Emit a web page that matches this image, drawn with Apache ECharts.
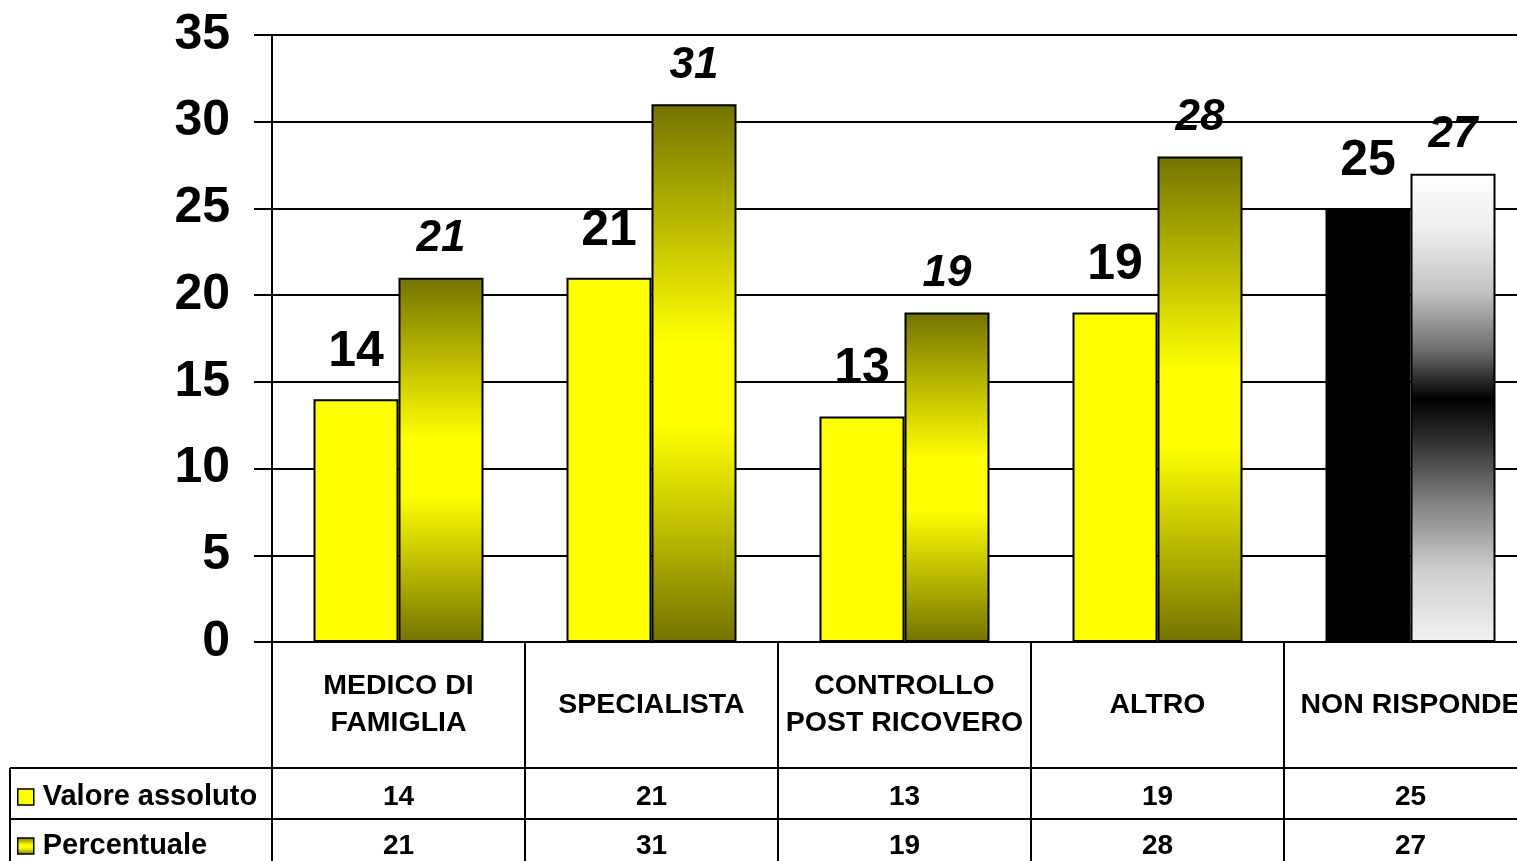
<!DOCTYPE html>
<html>
<head>
<meta charset="utf-8">
<script src="https://cdn.jsdelivr.net/npm/echarts@6/dist/echarts.min.js"></script>
<style>
html,body{margin:0;padding:0;overflow:hidden;background:#fff;}
#c{width:1537px;height:861px;}
</style>
</head>
<body>
<div id="c"></div>
<script>
const categories = ['MEDICO DI\nFAMIGLIA', 'SPECIALISTA', 'CONTROLLO\nPOST RICOVERO', 'ALTRO', 'NON RISPONDE'];
const valoreAssoluto = [14, 21, 13, 19, 25];
const percentuale = [21, 31, 19, 28, 27];
const yTicks = [0, 5, 10, 15, 20, 25, 30, 35];
const seriesNames = ['Valore assoluto', 'Percentuale'];

const FONT = 'Liberation Sans, Arial, sans-serif';
const olive = new echarts.graphic.LinearGradient(0, 0, 0, 1, [
  {offset: 0, color: '#737300'},
  {offset: 0.44, color: '#ffff00'},
  {offset: 0.6, color: '#ffff00'},
  {offset: 1, color: '#737300'}
]);
const grey = new echarts.graphic.LinearGradient(0, 0, 0, 1, [
  {offset: 0, color: '#ffffff'},
  {offset: 0.12, color: '#eeeeee'},
  {offset: 0.25, color: '#c4c4c4'},
  {offset: 0.38, color: '#6a6a6a'},
  {offset: 0.48, color: '#000000'},
  {offset: 0.56, color: '#2a2a2a'},
  {offset: 0.7, color: '#808080'},
  {offset: 0.85, color: '#d0d0d0'},
  {offset: 1, color: '#f2f2f2'}
]);
const lastIdx = categories.length - 1;

const legendText = {fontSize: 29, fontWeight: 'bold', fontFamily: FONT, color: '#000', lineHeight: 30, padding: [0, 0, 0, 4]};
const chart = echarts.init(document.getElementById('c'), null, {renderer: 'canvas'});
chart.setOption({
  animation: false,
  backgroundColor: '#fff',
  grid: {left: 272, top: 35, right: 0, bottom: 219, containLabel: false},
  legend: [
    {data: [seriesNames[0]], left: 17, top: 782, padding: 0, itemWidth: 16, itemHeight: 16, icon: 'rect',
     itemStyle: {borderColor: '#000', borderWidth: 1.5}, textStyle: legendText},
    {data: [seriesNames[1]], left: 17, top: 831, padding: 0, itemWidth: 16, itemHeight: 16, icon: 'rect',
     itemStyle: {borderColor: '#000', borderWidth: 1.5}, textStyle: legendText}
  ],
  xAxis: [
    {type: 'category', data: categories, position: 'bottom', offset: 0,
     axisLine: {show: true, lineStyle: {color: '#000', width: 2}},
     axisTick: {show: true, length: 219, interval: 0, lineStyle: {color: '#000', width: 2}},
     axisLabel: {interval: 0, margin: 63, verticalAlign: 'middle', lineHeight: 37, fontSize: 28.5, fontWeight: 'bold', fontFamily: FONT, color: '#000'},
     splitLine: {show: false}},
    {type: 'category', data: valoreAssoluto.map(String), position: 'bottom', offset: 0,
     axisLine: {show: false}, axisTick: {show: false}, splitLine: {show: false},
     axisLabel: {interval: 0, margin: 155, verticalAlign: 'middle', fontSize: 28, fontWeight: 'bold', fontFamily: FONT, color: '#000'}},
    {type: 'category', data: percentuale.map(String), position: 'bottom', offset: 0,
     axisLine: {show: false}, axisTick: {show: false}, splitLine: {show: false},
     axisLabel: {interval: 0, margin: 204, verticalAlign: 'middle', fontSize: 28, fontWeight: 'bold', fontFamily: FONT, color: '#000'}}
  ],
  yAxis: {
    type: 'value', min: yTicks[0], max: yTicks[yTicks.length - 1], interval: yTicks[1] - yTicks[0],
    axisLine: {show: true, lineStyle: {color: '#000', width: 2}},
    axisTick: {show: true, length: 18, lineStyle: {color: '#000', width: 2}},
    splitLine: {show: true, lineStyle: {color: '#000', width: 2}},
    axisLabel: {margin: 42, fontSize: 50, fontWeight: 'bold', fontFamily: FONT, color: '#000'}
  },
  series: [
    {name: seriesNames[0], type: 'bar', xAxisIndex: 0, barWidth: 85, barGap: '0%',
     itemStyle: {color: '#ffff00', borderColor: '#000', borderWidth: 2},
     label: {show: true, position: 'top', distance: 22, fontSize: 50, fontWeight: 'bold', fontFamily: FONT, color: '#000'},
     data: valoreAssoluto.map((v, i) => i === lastIdx ? {value: v, itemStyle: {color: '#000'}} : v)},
    {name: seriesNames[1], type: 'bar', xAxisIndex: 0, barWidth: 85, barGap: '0%',
     itemStyle: {color: olive, borderColor: '#000', borderWidth: 2},
     label: {show: true, position: 'top', distance: 17, fontSize: 44, fontWeight: 'bold', fontStyle: 'italic', fontFamily: FONT, color: '#000'},
     data: percentuale.map((v, i) => i === lastIdx ? {value: v, itemStyle: {color: grey}} : v)}
  ],
  graphic: [
    {type: 'line', shape: {x1: 10, y1: 768, x2: 1537, y2: 768}, style: {stroke: '#000', lineWidth: 2}},
    {type: 'line', shape: {x1: 10, y1: 819, x2: 1537, y2: 819}, style: {stroke: '#000', lineWidth: 2}},
    {type: 'line', shape: {x1: 10, y1: 768, x2: 10, y2: 861}, style: {stroke: '#000', lineWidth: 2}}
  ]
});
</script>
</body>
</html>
